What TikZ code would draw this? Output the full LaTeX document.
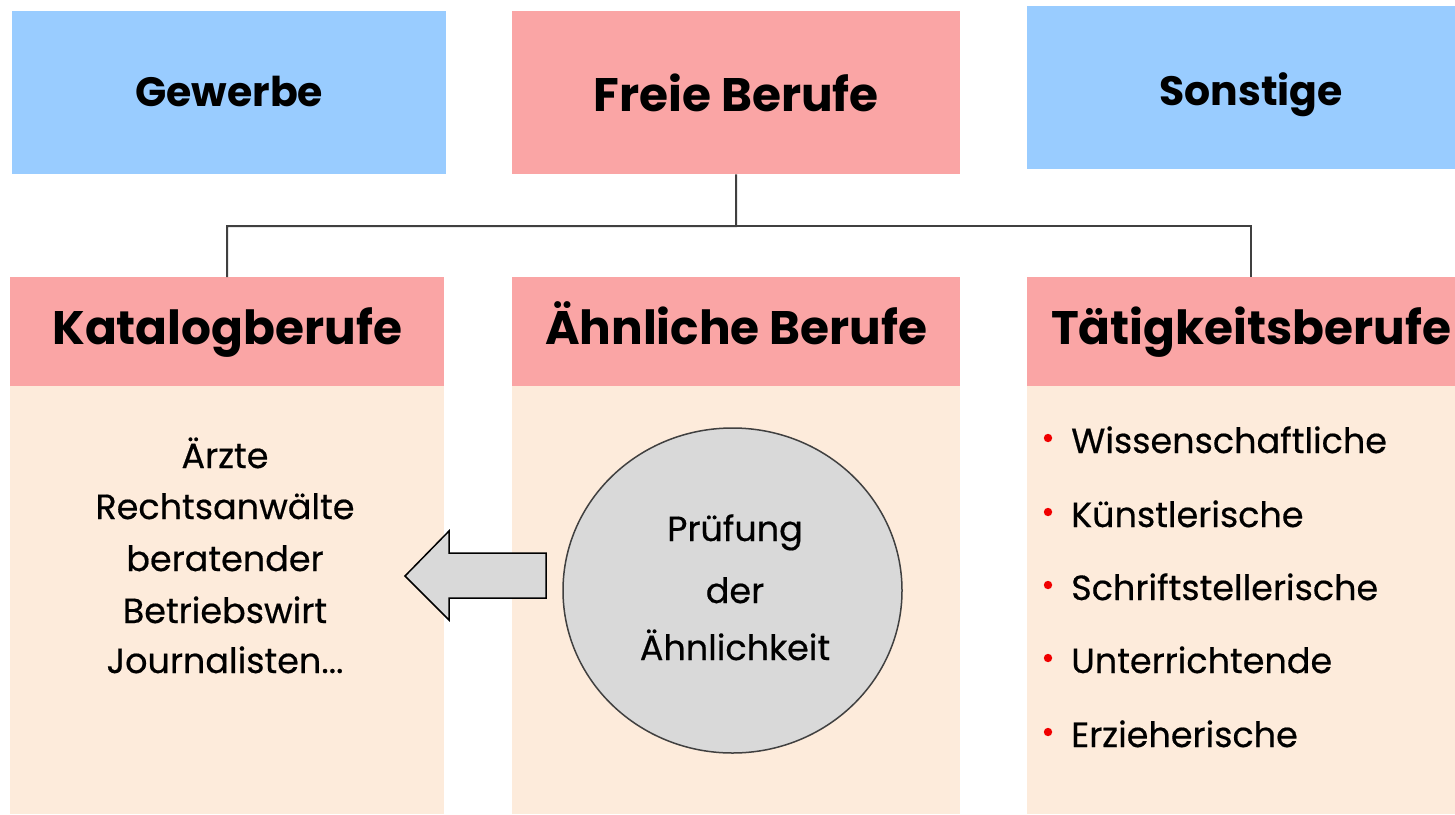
\documentclass[tikz,border=0pt]{standalone}
\usepackage{fontspec}
\setmainfont{Poppins}
\newfontfamily\bodyfont{Poppins}[FakeBold=0.5]
\usetikzlibrary{shapes.geometric}
\definecolor{topblue}{HTML}{99CCFF}
\definecolor{headpink}{HTML}{FAA5A5}
\definecolor{bodypeach}{HTML}{FDEBDB}
\definecolor{shapegray}{HTML}{D9D9D9}
\definecolor{linegray}{HTML}{404040}
\definecolor{bulletred}{HTML}{F00000}
\tikzset{
  box/.style={rectangle, inner sep=0pt, anchor=north west},
  toptitle/.style={font=\fontsize{41}{45}\selectfont\bfseries, text depth=0pt},
  headtitle/.style={font=\fontsize{47}{52}\selectfont\bfseries, text height=25pt, text depth=0pt},
  bodytext/.style={font=\fontsize{35}{40}\bodyfont, inner sep=0pt},
  connector/.style={draw=linegray, line width=2pt},
}
\begin{document}
\begin{tikzpicture}[x=1pt,y=-1pt]
\useasboundingbox (0,0) rectangle (1455,814);
% top row
\node[box, fill=topblue, minimum width=434pt, minimum height=163pt, toptitle, text height=27pt] (gew) at (12,11) {Gewerbe};
\node[box, fill=headpink, minimum width=448pt, minimum height=163pt, font=\fontsize{47}{50}\selectfont\bfseries, text height=37pt, text depth=0pt] (fb) at (512,11) {Freie Berufe};
\node[box, fill=topblue, minimum width=448pt, minimum height=163pt, toptitle, text height=36pt] (son) at (1027,6) {Sonstige};
% bodies
\fill[bodypeach] (10,386) rectangle (444,814);
\fill[bodypeach] (512,386) rectangle (960,814);
\fill[bodypeach] (1027,386) rectangle (1475,814);
% headers
\node[box, fill=headpink, minimum width=434pt, minimum height=109pt, headtitle] (kat) at (10,277) {Katalogberufe};
\node[box, fill=headpink, minimum width=448pt, minimum height=109pt, headtitle] (aeh) at (512,277) {Ähnliche Berufe};
\node[box, fill=headpink, minimum width=448pt, minimum height=109pt, headtitle] (tat) at (1027,277) {Tätigkeitsberufe};
% connectors
\coordinate (j) at (736,226);
\draw[connector] (fb.south) -- (j) -| (kat.north);
\draw[connector] (j) -| (tat.north);
% Katalog list
\node[bodytext, anchor=base] (k1) at (225,468) {Ärzte};
\node[bodytext, anchor=base] (k2) at (225,519) {Rechtsanwälte};
\node[bodytext, anchor=base] (k3) at (225,571) {beratender};
\node[bodytext, anchor=base] (k4) at (225,623) {Betriebswirt};
\node[bodytext, anchor=base] (k5) at (225,673) {Journalisten...};
% arrow
\draw[fill=shapegray, draw=black, line width=1.5pt, line join=miter]
  (546,553) -- (449,553) -- (449,531) -- (405,576) -- (449,620) -- (449,598) -- (546,598) -- cycle;
% circle
\node[ellipse, fill=shapegray, draw=linegray, line width=1.5pt, minimum width=339pt, minimum height=325pt, inner sep=0pt] (pr) at (732.5,590.5) {};
\node[bodytext, anchor=base] (p1) at (735,541) {Prüfung};
\node[bodytext, anchor=base] (p2) at (735,603) {der};
\node[bodytext, anchor=base] (p3) at (735,660) {Ähnlichkeit};
% bullets
\foreach \i/\t/\y in {1/Wissenschaftliche/453,2/Künstlerische/527,3/Schriftstellerische/600,4/Unterrichtende/673,5/Erzieherische/747}{
  \node[bodytext, anchor=base west] (t\i) at (1071,\y) {\t};
  \fill[bulletred] (1048,\y-15) circle (4.2pt);
}
\end{tikzpicture}
\end{document}
